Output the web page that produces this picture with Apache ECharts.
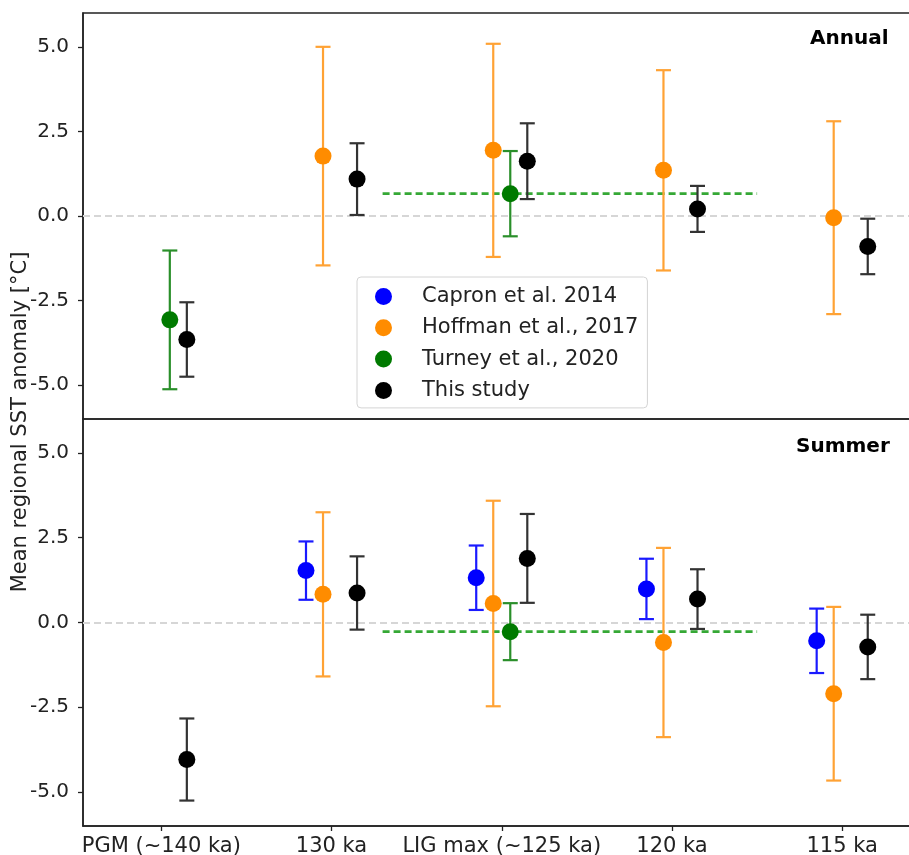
<!DOCTYPE html>
<html>
<head>
<meta charset="utf-8">
<script src="https://cdn.jsdelivr.net/npm/echarts@6/dist/echarts.min.js"></script>
<style>
  html, body { margin: 0; padding: 0; background: #fff; }
  #chart { width: 909px; height: 855px; }
</style>
</head>
<body>
<div id="chart"></div>
<script>
const categories = ["PGM (~140 ka)", "130 ka", "LIG max (~125 ka)", "120 ka", "115 ka"];
const yTicks = [-5, -2.5, 0, 2.5, 5];

const sources = ["Capron et al. 2014", "Hoffman et al., 2017", "Turney et al., 2020", "This study"];
const offsets = [-0.15, -0.05, 0.05, 0.15];

// Annual panel: means and +/- errors per category
const annualCapron = [null, null, null, null, null];
const annualCapronErr = [null, null, null, null, null];
const annualHoffman = [null, 1.77, 1.94, 1.35, -0.05];
const annualHoffmanErr = [null, 3.23, 3.15, 2.96, 2.85];
const annualTurney = [-3.07, null, 0.66, null, null];
const annualTurneyErr = [2.05, null, 1.26, null, null];
const annualStudy = [-3.65, 1.09, 1.62, 0.21, -0.90];
const annualStudyErr = [1.10, 1.06, 1.12, 0.68, 0.82];

// Summer panel
const summerCapron = [null, 1.53, 1.32, 0.99, -0.54];
const summerCapronErr = [null, 0.86, 0.95, 0.89, 0.95];
const summerHoffman = [null, 0.83, 0.56, -0.59, -2.10];
const summerHoffmanErr = [null, 2.42, 3.03, 2.79, 2.56];
const summerTurney = [null, null, -0.27, null, null];
const summerTurneyErr = [null, null, 0.84, null, null];
const summerStudy = [-4.04, 0.87, 1.89, 0.69, -0.72];
const summerStudyErr = [1.21, 1.08, 1.31, 0.88, 0.95];

// Turney LIG level drawn as dashed line between these x positions
const turneySpan = [1.3, 3.5];

const markerColors = ["#0000ff", "#ff8c00", "#007a00", "#000000"];
const barColors = ["#1a1aff", "#ffa234", "#2a8f2a", "#333333"];
const font = "DejaVu Sans";

const chart = echarts.init(document.getElementById("chart"));

function toData(vals, errs, k) {
  const out = [];
  vals.forEach((v, i) => {
    if (v !== null) out.push([i + offsets[k], v, v - errs[i], v + errs[i]]);
  });
  return out;
}

function errRender(k) {
  return (params, api) => {
    const x = api.value(0);
    const p = api.coord([x, api.value(1)]);
    const lo = api.coord([x, api.value(2)]);
    const hi = api.coord([x, api.value(3)]);
    const hw = 7.5;
    const ls = { stroke: barColors[k], lineWidth: 2.2 };
    return {
      type: "group",
      children: [
        { type: "line", shape: { x1: lo[0], y1: lo[1], x2: hi[0], y2: hi[1] }, style: ls },
        { type: "line", shape: { x1: lo[0] - hw, y1: lo[1], x2: lo[0] + hw, y2: lo[1] }, style: ls },
        { type: "line", shape: { x1: hi[0] - hw, y1: hi[1], x2: hi[0] + hw, y2: hi[1] }, style: ls },
        { type: "circle", shape: { cx: p[0], cy: p[1], r: 8.5 }, style: { fill: markerColors[k] } },
      ],
    };
  };
}

const panels = [
  { vals: [annualCapron, annualHoffman, annualTurney, annualStudy],
    errs: [annualCapronErr, annualHoffmanErr, annualTurneyErr, annualStudyErr] },
  { vals: [summerCapron, summerHoffman, summerTurney, summerStudy],
    errs: [summerCapronErr, summerHoffmanErr, summerTurneyErr, summerStudyErr] },
];

const series = [];
panels.forEach((panel, g) => {
  // zero reference line
  series.push({
    type: "line",
    xAxisIndex: g,
    yAxisIndex: g,
    data: [],
    silent: true,
    z: 1,
    markLine: {
      silent: true,
      symbol: "none",
      label: { show: false },
      lineStyle: { color: "#d6d6d6", type: [7, 4], width: 2.2 },
      data: [{ yAxis: 0 }],
      z: 1,
    },
  });
  // Turney LIG level
  const lig = panel.vals[2][2];
  series.push({
    type: "line",
    xAxisIndex: g,
    yAxisIndex: g,
    data: [[turneySpan[0], lig], [turneySpan[1], lig]],
    symbol: "none",
    silent: true,
    z: 2,
    lineStyle: { color: "#35a835", type: [7, 4], width: 2.6 },
  });
  sources.forEach((name, k) => {
    series.push({
      name,
      type: "custom",
      xAxisIndex: g,
      yAxisIndex: g,
      z: 3,
      itemStyle: { color: markerColors[k] },
      renderItem: errRender(k),
      encode: { x: 0, y: [1, 2, 3] },
      data: toData(panel.vals[k], panel.errs[k], k),
    });
  });
});

const xBase = {
  type: "value",
  min: -0.46,
  max: 4.41,
  splitLine: { show: false },
};
const yBase = {
  type: "value",
  min: -6,
  max: 6,
  splitLine: { show: false },
  axisLine: { show: true, onZero: false, lineStyle: { color: "#222", width: 1.5 } },
  axisTick: { show: true, customValues: yTicks, length: 5, lineStyle: { color: "#222", width: 1.3 } },
  axisLabel: {
    customValues: yTicks,
    formatter: (v) => v.toFixed(1),
    fontFamily: font,
    fontSize: 20,
    color: "#222",
    margin: 14,
  },
};

chart.setOption({
  animation: false,
  textStyle: { fontFamily: font },
  grid: [
    { left: 83, top: 13, width: 829, height: 406, show: true, borderColor: "#222", borderWidth: 1.5, outerBoundsMode: "none" },
    { left: 83, top: 419, width: 829, height: 407, show: true, borderColor: "#222", borderWidth: 1.5, outerBoundsMode: "none" },
  ],
  xAxis: [
    Object.assign({}, xBase, {
      gridIndex: 0,
      axisLine: { show: false, onZero: false },
      axisTick: { show: false },
      axisLabel: { show: false },
    }),
    Object.assign({}, xBase, {
      gridIndex: 1,
      axisLine: { show: true, onZero: false, lineStyle: { color: "#222", width: 1.5 } },
      axisTick: { show: true, customValues: [0, 1, 2, 3, 4], length: 5, lineStyle: { color: "#222", width: 1.3 } },
      axisLabel: {
        customValues: [0, 1, 2, 3, 4],
        formatter: (v) => categories[Math.round(v)],
        fontFamily: font,
        fontSize: 21,
        color: "#222",
        margin: 10,
      },
    }),
  ],
  yAxis: [
    Object.assign({}, yBase, { gridIndex: 0 }),
    Object.assign({}, yBase, { gridIndex: 1 }),
  ],
  legend: {
    data: sources,
    orient: "vertical",
    left: 357,
    top: 277,
    icon: "circle",
    itemWidth: 17,
    itemHeight: 17,
    itemGap: 10.3,
    padding: [9, 9, 7, 18],
    backgroundColor: "rgba(255,255,255,0.85)",
    borderColor: "#d4d4d4",
    borderWidth: 1,
    borderRadius: 4,
    textStyle: { fontFamily: font, fontSize: 21, lineHeight: 21, color: "#222", padding: [0, 0, 0, 25] },
  },
  graphic: [
    {
      type: "text",
      left: 890 - 80,
      top: 29,
      style: { text: "Annual", font: "bold 20px 'DejaVu Sans'", fill: "#000" },
    },
    {
      type: "text",
      left: 893 - 97,
      top: 437,
      style: { text: "Summer", font: "bold 20px 'DejaVu Sans'", fill: "#000" },
    },
    {
      type: "text",
      x: 21,
      y: 422,
      rotation: Math.PI / 2,
      style: {
        text: "Mean regional SST anomaly [°C]",
        font: "21px 'DejaVu Sans'",
        fill: "#222",
        align: "center",
        verticalAlign: "middle",
      },
    },
  ],
  series,
});
</script>
</body>
</html>
